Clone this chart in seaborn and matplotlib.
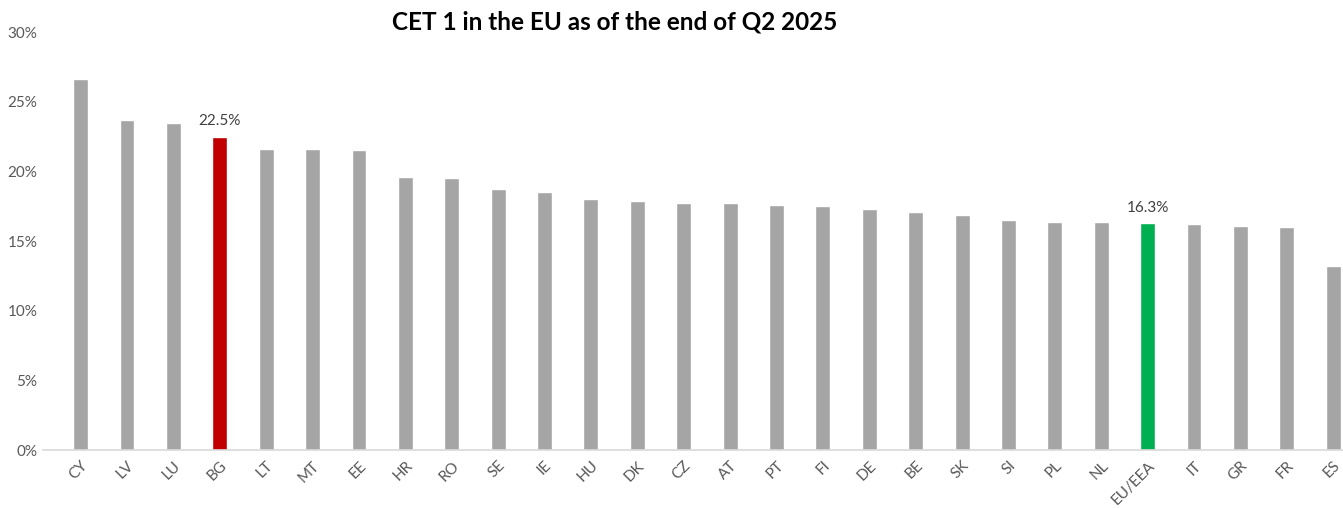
"""CET 1 ratio by country, end of Q2 2025."""

import matplotlib

matplotlib.use("Agg")

import matplotlib.pyplot as plt
import pandas as pd
import seaborn as sns
from matplotlib.ticker import PercentFormatter

countries = [
    "CY", "LV", "LU", "BG", "LT", "MT", "EE", "HR", "RO", "SE", "IE", "HU", "DK", "CZ",
    "AT", "PT", "FI", "DE", "BE", "SK", "SI", "PL", "NL", "EU/EEA", "IT", "GR", "FR", "ES",
]
cet1 = [
    26.6, 23.7, 23.5, 22.5, 21.6, 21.6, 21.5, 19.6, 19.5, 18.7, 18.5, 18.0, 17.9, 17.7,
    17.7, 17.6, 17.5, 17.3, 17.1, 16.9, 16.5, 16.4, 16.4, 16.3, 16.2, 16.1, 16.0, 13.2,
]
highlight = {"BG": "#c00000", "EU/EEA": "#00b050"}
BASE_COLOR = "#a5a5a5"
TEXT_COLOR = "#595959"

df = pd.DataFrame({"country": countries, "cet1": cet1})
palette = {c: highlight.get(c, BASE_COLOR) for c in countries}

sns.set_theme(style="white")
plt.rcParams["font.family"] = ["Lato", "DejaVu Sans"]

fig = plt.figure(figsize=(13.43, 5.08), dpi=100)
ax = fig.add_axes([0.032, 0.114, 0.968, 0.823])

sns.barplot(
    data=df, x="country", y="cet1", hue="country", palette=palette,
    legend=False, width=0.32, saturation=1, ax=ax,
)

for name in highlight:
    i = countries.index(name)
    ax.text(i, cet1[i] + 0.6, f"{cet1[i]:.1f}%", ha="center", va="bottom",
            fontsize=11, color="#404040")

ax.set_ylim(0, 30)
ax.set_xlim(-0.81, 27.21)
ax.yaxis.set_major_formatter(PercentFormatter(decimals=0))
ax.set_yticks(range(0, 31, 5))
ax.set_xlabel("")
ax.set_ylabel("")

for side in ["top", "right", "left"]:
    ax.spines[side].set_visible(False)
ax.spines["bottom"].set_color("#d9d9d9")
ax.spines["bottom"].set_linewidth(1.2)

ax.tick_params(axis="y", length=0, pad=4, labelsize=11, labelcolor=TEXT_COLOR)
ax.tick_params(axis="x", length=0, pad=6, labelsize=11, labelcolor=TEXT_COLOR)
for lbl in ax.get_xticklabels():
    lbl.set_rotation(45)
    lbl.set_ha("right")
    lbl.set_rotation_mode("anchor")

fig.text(615 / 1343, 1 - 22 / 508, "CET 1 in the EU as of the end of Q2 2025",
         ha="center", va="center", fontsize=17.5, fontweight="bold", color="black")

fig.savefig("out.png", dpi=100)
